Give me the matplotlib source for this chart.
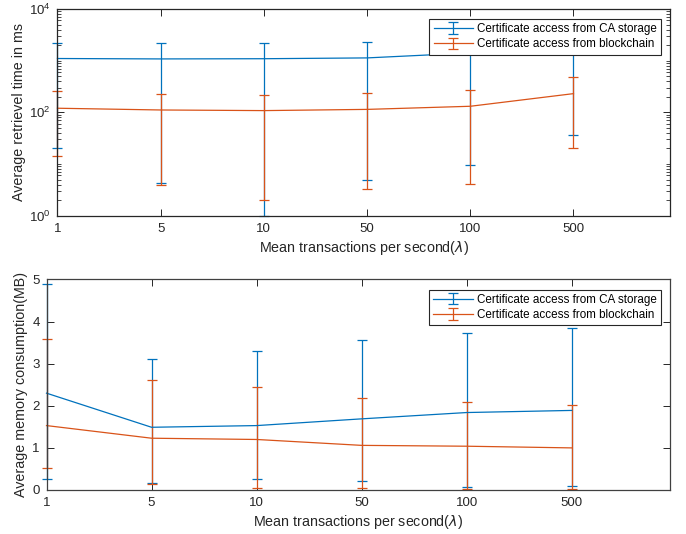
import matplotlib
matplotlib.use("Agg")
import matplotlib.pyplot as plt
from matplotlib.ticker import FixedLocator, LogLocator, NullFormatter

plt.rcParams['font.family'] = ['Liberation Sans', 'DejaVu Sans']
plt.rcParams['mathtext.fontset'] = 'dejavusans'

categories = ['1', '5', '10', '50', '100', '500']
labels = ['Certificate access from CA storage', 'Certificate access from blockchain']

# Top: average retrieval time (ms), log scale
ret_ca_mean = [1100, 1080, 1090, 1130, 1410, 1600]
ret_ca_low = [20, 4.2, 1.0, 4.9, 9.4, 36.6]
ret_ca_high = [2200, 2200, 2200, 2270, 2800, 3200]
ret_bc_mean = [120, 111, 108, 114, 131, 230]
ret_bc_low = [14.5, 3.9, 2.05, 3.3, 4.1, 20]
ret_bc_high = [260, 230, 217, 235, 268, 490]

# Bottom: average memory consumption (MB)
mem_ca_mean = [2.30, 1.49, 1.53, 1.69, 1.84, 1.89]
mem_ca_low = [0.26, 0.17, 0.25, 0.21, 0.08, 0.09]
mem_ca_high = [4.89, 3.12, 3.31, 3.56, 3.73, 3.85]
mem_bc_mean = [1.53, 1.23, 1.20, 1.06, 1.04, 1.00]
mem_bc_low = [0.52, 0.14, 0.04, 0.04, 0.03, 0.02]
mem_bc_high = [3.59, 2.61, 2.45, 2.18, 2.10, 2.02]

BLUE = '#0072BD'
ORANGE = '#D95319'
FS_TICK = 9.5
FS_LABEL = 10.3
FS_LEG = 8.4

fig = plt.figure(figsize=(6.86, 5.34), dpi=100)
ax1 = fig.add_axes([0.0838, 0.5961, 0.8936, 0.3871])
ax2 = fig.add_axes([0.0678, 0.0824, 0.9096, 0.3942])

x = list(range(len(categories)))

def draw(ax, means, lows, highs, color, label):
    yerr = [[m - l for m, l in zip(means, lows)], [h - m for m, h in zip(means, highs)]]
    eb = ax.errorbar(x, means, yerr=yerr, color=color, lw=0.9, elinewidth=0.9,
                     capsize=3.5, capthick=0.9, label=label)
    for art in eb.lines[1] + eb.lines[2]:
        art.set_clip_on(False)
    eb.lines[0].set_clip_on(False)
    return eb

draw(ax1, ret_ca_mean, ret_ca_low, ret_ca_high, BLUE, labels[0])
draw(ax1, ret_bc_mean, ret_bc_low, ret_bc_high, ORANGE, labels[1])
draw(ax2, mem_ca_mean, mem_ca_low, mem_ca_high, BLUE, labels[0])
draw(ax2, mem_bc_mean, mem_bc_low, mem_bc_high, ORANGE, labels[1])

for ax, spine_col in ((ax1, '#262626'), (ax2, '#404040')):
    ax.set_xlim(0, 5.94)
    ax.set_xticks(x)
    ax.set_xticklabels(categories)
    ax.tick_params(direction='in', top=True, right=True, labelsize=FS_TICK,
                   colors='#262626', length=5, width=0.7, pad=5)
    ax.tick_params(which='minor', direction='in', top=False, right=True, length=3, width=0.5)
    for s in ax.spines.values():
        s.set_color(spine_col)
        s.set_linewidth(0.9)
    ax.set_xlabel('Mean transactions per second($\\lambda$)', fontsize=FS_LABEL, color='#262626', labelpad=3)
    leg = ax.legend(loc='upper right', fontsize=FS_LEG, frameon=True, fancybox=False,
                    edgecolor='#262626', framealpha=1, borderpad=0.35, handlelength=3.4,
                    handletextpad=0.3, labelspacing=0.3, borderaxespad=0.0,
                    bbox_to_anchor=(0.984, 0.952))
    leg.get_frame().set_linewidth(0.8)
    leg.set_zorder(20)

ax1.set_yscale('log')
ax1.set_ylim(1, 10000)
ax1.yaxis.set_major_locator(FixedLocator([1, 100, 10000]))
ax1.set_yticklabels(['$\\mathregular{10^{0}}$', '$\\mathregular{10^{2}}$', '$\\mathregular{10^{4}}$'])
ax1.yaxis.set_minor_locator(LogLocator(base=10, subs=range(1, 10), numticks=20))
ax1.yaxis.set_minor_formatter(NullFormatter())
ax1.set_ylabel('Average retrievel time in ms', fontsize=FS_LABEL, color='#262626', labelpad=2)

ax2.set_ylim(0, 5)
ax2.set_yticks([0, 1, 2, 3, 4, 5])
ax2.set_ylabel('Average memory consumption(MB)', fontsize=FS_LABEL, color='#262626', labelpad=3)

fig.savefig('out.png', dpi=100)
